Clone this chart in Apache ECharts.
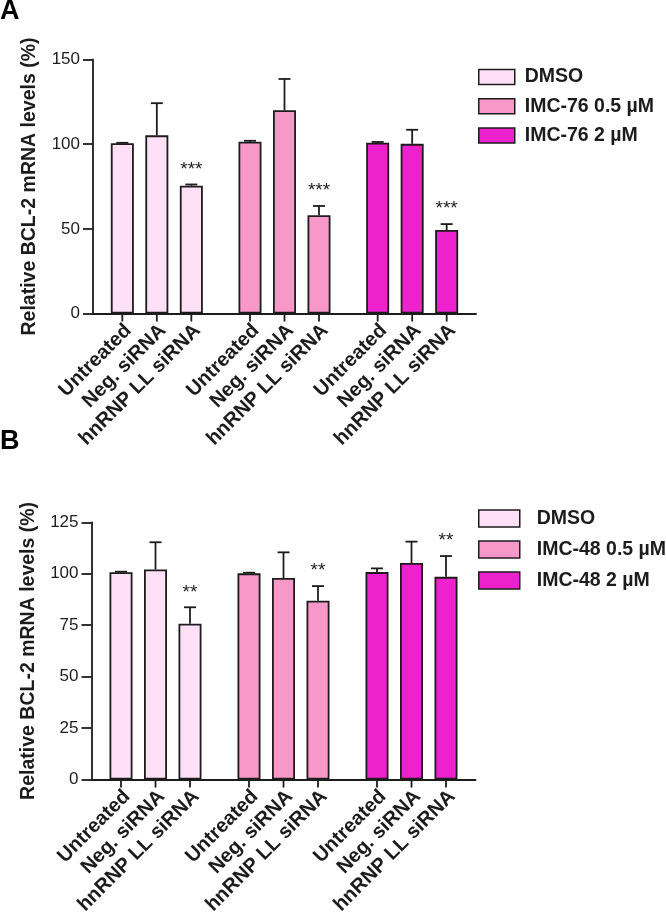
<!DOCTYPE html>
<html>
<head>
<meta charset="utf-8">
<script src="https://cdn.jsdelivr.net/npm/echarts@6/dist/echarts.min.js"></script>
<style>html,body{margin:0;padding:0;background:#fff}#c{width:666px;height:916px}</style>
</head>
<body>
<div id="c"></div>
<script>
// ---- data ----
const conditions = ['Untreated', 'Neg. siRNA', 'hnRNP LL siRNA'];
const groupsA = ['DMSO', 'IMC-76 0.5 µM', 'IMC-76 2 µM'];
const groupsB = ['DMSO', 'IMC-48 0.5 µM', 'IMC-48 2 µM'];
const groupColors = ['#FFE0F6', '#F898C8', '#EE22CC'];

// Panel A means / SD (Untreated, Neg. siRNA, hnRNP LL siRNA)
const dmsoMeanA  = [100.5, 105.2, 75.5];
const dmsoErrA   = [0.3, 19.0, 0.7];
const imc05MeanA = [101.5, 120.0, 58.0];
const imc05ErrA  = [0.5, 18.5, 5.5];
const imc2MeanA  = [100.8, 100.2, 49.3];
const imc2ErrA   = [0.5, 8.3, 3.5];
const starsA     = ['', '', '***'];

// Panel B
const dmsoMeanB  = [100.7, 102.1, 75.7];
const dmsoErrB   = [0.3, 13.2, 8.0];
const imc05MeanB = [100.2, 97.9, 86.9];
const imc05ErrB  = [0.3, 12.5, 7.1];
const imc2MeanB  = [100.8, 105.2, 98.5];
const imc2ErrB   = [1.8, 10.4, 10.1];
const starsB     = ['', '', '**'];

const yTicksA = {min: 0, max: 150, interval: 50};
const yTicksB = {min: 0, max: 125, interval: 25};

// ---- style ----
const FONT = '"Liberation Sans", Arial, sans-serif';
const INK = '#1c1c1c';
const BAR_W = 23;
const BAR_GAP = 0.5;
const SPACING = BAR_W * (1 + BAR_GAP);

function buildPanel(idx, means, errs, stars, groups) {
  const series = [];
  conditions.forEach(function (cond, c) {
    series.push({
      type: 'bar', name: 'p' + idx + '-' + cond,
      xAxisIndex: idx, yAxisIndex: idx,
      barWidth: BAR_W, barGap: (BAR_GAP * 100) + '%',
      data: groups.map(function (g, gi) {
        return {value: means[gi][c], itemStyle: {color: groupColors[gi], borderColor: INK, borderWidth: 1.8}};
      }),
      z: 2
    });
  });
  const customData = [];
  groups.forEach(function (g, gi) {
    conditions.forEach(function (cond, c) {
      customData.push([gi, means[gi][c], means[gi][c] + errs[gi][c]]);
    });
  });
  series.push({
    type: 'custom', name: 'p' + idx + '-err',
    xAxisIndex: idx, yAxisIndex: idx, clip: false, z: 5, silent: true,
    data: customData,
    renderItem: function (params, api) {
      const gi = api.value(0);
      const c = params.dataIndex % 3;
      const base = api.coord([gi, 0]);
      const x = base[0] + (c - 1) * SPACING;
      const y0 = base[1];
      const yMean = api.coord([gi, api.value(1)])[1];
      const yTop = api.coord([gi, api.value(2)])[1];
      const ls = {stroke: INK, lineWidth: 1.8};
      const children = [
        {type: 'line', shape: {x1: x, y1: yMean, x2: x, y2: yTop}, style: ls},
        {type: 'line', shape: {x1: x - 6, y1: yTop, x2: x + 6, y2: yTop}, style: ls},
        {type: 'line', shape: {x1: x, y1: y0, x2: x, y2: y0 + 8}, style: ls},
        {type: 'text', x: x + 6, y: y0 + 14, rotation: Math.PI / 4,
         style: {text: conditions[c], fill: INK, fontSize: 20, fontWeight: 'bold', fontFamily: FONT,
                 align: 'right', verticalAlign: 'middle'}}
      ];
      if (stars[c]) {
        children.push({type: 'text', x: x, y: yTop - 15,
          style: {text: stars[c], fill: INK, fontSize: 19, fontFamily: FONT, align: 'center', verticalAlign: 'middle'}});
      }
      return {type: 'group', children: children};
    }
  });
  groups.forEach(function (g, gi) {
    series.push({type: 'scatter', name: g, xAxisIndex: idx, yAxisIndex: idx, data: [],
      itemStyle: {color: groupColors[gi], borderColor: INK, borderWidth: 1.5, opacity: 1}});
  });
  return series;
}

const meansA = [dmsoMeanA, imc05MeanA, imc2MeanA];
const errsA = [dmsoErrA, imc05ErrA, imc2ErrA];
const meansB = [dmsoMeanB, imc05MeanB, imc2MeanB];
const errsB = [dmsoErrB, imc05ErrB, imc2ErrB];

function xAxisCfg(idx, groups) {
  return {
    type: 'category', gridIndex: idx, data: groups,
    axisLine: {lineStyle: {color: INK, width: 1.8}},
    axisTick: {show: false}, axisLabel: {show: false}, splitLine: {show: false}
  };
}
function yAxisCfg(idx, t) {
  return {
    type: 'value', gridIndex: idx, min: t.min, max: t.max, interval: t.interval,
    name: 'Relative BCL-2 mRNA levels (%)', nameLocation: 'middle', nameGap: 53,
    nameTextStyle: {fontFamily: FONT, fontWeight: 'bold', fontSize: 19.5, color: INK},
    axisLine: {show: true, lineStyle: {color: INK, width: 1.8}},
    axisTick: {show: true, length: 10, lineStyle: {color: INK, width: 1.8}},
    axisLabel: {fontFamily: FONT, fontSize: 17, color: INK, margin: 13},
    splitLine: {show: false}
  };
}
function legendCfg(groups, top, w, h, gap, textPad) {
  return {
    orient: 'vertical', left: 478, top: top, padding: 0,
    itemWidth: w, itemHeight: h, itemGap: gap, icon: 'rect', selectedMode: false,
    itemStyle: {borderColor: INK, borderWidth: 1.5, opacity: 1},
    textStyle: {fontFamily: FONT, fontWeight: 'bold', fontSize: 19.5, color: INK, lineHeight: 20, padding: [0, 0, 0, textPad]},
    data: groups
  };
}

const chart = echarts.init(document.getElementById('c'), null, {renderer: 'canvas'});
chart.setOption({
  animation: false,
  backgroundColor: '#fff',
  title: [
    {text: 'A', left: 0, top: -2, padding: 0, textStyle: {fontFamily: FONT, fontWeight: 'bold', fontSize: 27, color: '#000'}},
    {text: 'B', left: 0, top: 428, padding: 0, textStyle: {fontFamily: FONT, fontWeight: 'bold', fontSize: 27, color: '#000'}}
  ],
  grid: [
    {left: 93, top: 59.5, width: 383, height: 254},
    {left: 91.5, top: 522.3, width: 384, height: 257.2}
  ],
  xAxis: [xAxisCfg(0, groupsA), xAxisCfg(1, groupsB)],
  yAxis: [yAxisCfg(0, yTicksA), yAxisCfg(1, yTicksB)],
  legend: [
    legendCfg(groupsA, 67, 36, 15, 9.3, 5),
    legendCfg(groupsB, 508.5, 41, 17, 11, 12)
  ],
  series: buildPanel(0, meansA, errsA, starsA, groupsA).concat(buildPanel(1, meansB, errsB, starsB, groupsB))
});
</script>
</body>
</html>
